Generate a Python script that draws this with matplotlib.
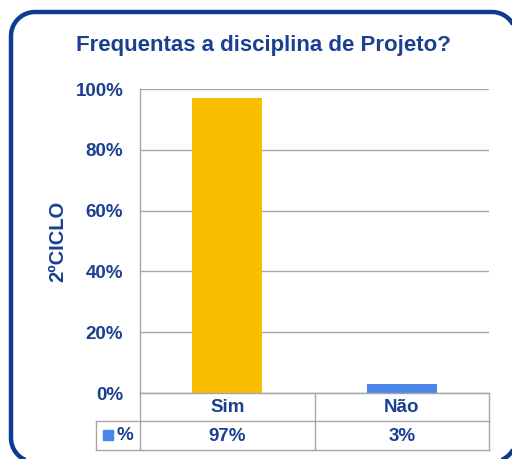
import matplotlib
matplotlib.use("Agg")
import matplotlib.pyplot as plt
import numpy as np
from matplotlib.patches import Rectangle, PathPatch
from matplotlib.path import Path
from matplotlib.lines import Line2D
import matplotlib.transforms as mtransforms

categories = ["Sim", "Não"]
values = [97, 3]
value_labels = ["97%", "3%"]
bar_colors = ["#FBBD00", "#4A86E8"]
yticks = [0, 20, 40, 60, 80, 100]
ytick_labels = ["0%", "20%", "40%", "60%", "80%", "100%"]
title = "Frequentas a disciplina de Projeto?"
ylabel = "2ºCICLO"
series_name = "%"

W, H = 512, 459
DPI = 100
plt.rcParams['font.family'] = ['Liberation Sans', 'DejaVu Sans']
TXT = "#1B3F91"
GRID = "#A6A6A6"

fig = plt.figure(figsize=(W / DPI, H / DPI), dpi=DPI)
fig.patch.set_facecolor("white")

def fx(px):
    return px / W

def fy(py):
    return 1 - py / H

# rounded border drawn in figure-fraction coords built from pixel geometry
def rounded_rect(x0, y0, x1, y1, r):
    pts = []
    corners = [((x1 - r, y0 + r), -90, 0), ((x1 - r, y1 - r), 0, 90),
               ((x0 + r, y1 - r), 90, 180), ((x0 + r, y0 + r), 180, 270)]
    # y measured downward in image; convert: arcs in image coords
    for (cx, cy), a0, a1 in [((x0 + r, y0 + r), 180, 270), ((x1 - r, y0 + r), 270, 360),
                             ((x1 - r, y1 - r), 0, 90), ((x0 + r, y1 - r), 90, 180)]:
        for a in np.linspace(np.radians(a0), np.radians(a1), 20):
            pts.append((cx + r * np.cos(a), cy + r * np.sin(a)))
    pts.append(pts[0])
    return [(fx(px), fy(py)) for px, py in pts]

verts = rounded_rect(11, 12, 516, 462, 24)
border = PathPatch(Path(verts), transform=fig.transFigure, fill=False,
                   edgecolor="#0B3C91", linewidth=3.2, clip_on=False)
fig.patches.append(border)

left, right, top, bottom = 140, 489, 89, 393
ax = fig.add_axes([fx(left), fy(bottom), fx(right) - fx(left), fy(top) - fy(bottom)])
x = list(range(len(categories)))
ax.bar(x, values, width=0.4, color=bar_colors, zorder=3)
ax.set_xlim(-0.5, len(categories) - 0.5)
ax.set_ylim(0, 100)
ax.set_yticks(yticks)
ax.set_yticklabels(ytick_labels, fontsize=13.5, fontweight="bold", color=TXT)
ax.tick_params(axis="y", length=0, pad=12)
ax.set_xticks([])
ax.grid(axis="y", color=GRID, linewidth=1.0, zorder=0)
for s in ["top", "right", "bottom"]:
    ax.spines[s].set_visible(False)
ax.spines["left"].set_color(GRID)
ax.spines["left"].set_linewidth(1.0)

fig.text(fx(263), fy(45), title, ha="center", va="center",
         fontsize=16, fontweight="bold", color=TXT)
fig.text(fx(58), fy(241), ylabel, ha="center", va="center", rotation=90,
         fontsize=14.5, fontweight="bold", color=TXT)

# data table under the axis
row1_top, row1_bot, row2_bot = 393, 421, 450
leg_left = 96
lw = 1.0
def hline(y, x0, x1):
    fig.lines.append(Line2D([fx(x0), fx(x1)], [fy(y), fy(y)], transform=fig.transFigure,
                            color=GRID, linewidth=lw))
def vline(xp, y0, y1):
    fig.lines.append(Line2D([fx(xp), fx(xp)], [fy(y0), fy(y1)], transform=fig.transFigure,
                            color=GRID, linewidth=lw))

hline(row1_top, left, right)
hline(row1_bot, leg_left, right)
hline(row2_bot, leg_left, right)
vline(left, row1_top, row2_bot)
vline(right, row1_top, row2_bot)
vline(leg_left, row1_bot, row2_bot)

trans = mtransforms.blended_transform_factory(ax.transData, fig.transFigure)
for i, (cat, lab) in enumerate(zip(categories, value_labels)):
    if i > 0:
        xb = i - 0.5
        fig.lines.append(Line2D([xb, xb], [fy(row1_top), fy(row2_bot)], transform=trans,
                                color=GRID, linewidth=lw))
    ax.text(i, fy((row1_top + row1_bot) / 2 + 1), cat, transform=trans, ha="center",
            va="center", fontsize=13.5, fontweight="bold", color=TXT)
    ax.text(i, fy((row1_bot + row2_bot) / 2 + 1), lab, transform=trans, ha="center",
            va="center", fontsize=13.5, fontweight="bold", color=TXT)

fig.patches.append(Rectangle((fx(103), fy(440)), fx(10), fy(430) - fy(440),
                             transform=fig.transFigure, color=bar_colors[1]))
fig.text(fx(125), fy(436), series_name, ha="center", va="center",
         fontsize=13.5, fontweight="bold", color=TXT)

fig.savefig("out.png", dpi=DPI, facecolor="white")
